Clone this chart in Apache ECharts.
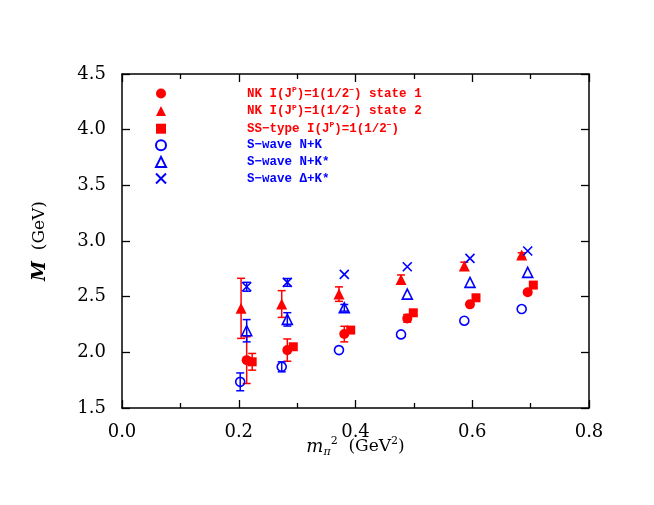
<!DOCTYPE html>
<html>
<head>
<meta charset="utf-8">
<script src="https://cdn.jsdelivr.net/npm/echarts@6/dist/echarts.min.js"></script>
<style>html,body{margin:0;padding:0;background:#fff;}#c{width:654px;height:505px;}</style>
</head>
<body>
<div id="c"></div>
<script>
// ---- data ----
var xTicks = [0.0, 0.2, 0.4, 0.6, 0.8];
var yTicks = [1.5, 2.0, 2.5, 3.0, 3.5, 4.0, 4.5];

var state1X = [0.2136, 0.2832, 0.3808, 0.4887, 0.5961, 0.6950];
var state1Y = [1.930, 2.020, 2.164, 2.305, 2.431, 2.539];
var state1E = [0.210, 0.100, 0.070, 0.035, 0.020, 0.020];

var state2X = [0.2040, 0.2736, 0.3717, 0.4780, 0.5864, 0.6847];
var state2Y = [2.395, 2.434, 2.523, 2.655, 2.775, 2.874];
var state2E = [0.270, 0.120, 0.065, 0.040, 0.035, 0.020];

var ssX = [0.2230, 0.2934, 0.3918, 0.4990, 0.6064, 0.7046];
var ssY = [1.915, 2.050, 2.200, 2.355, 2.490, 2.604];
var ssE = [0.075, 0.020, 0.020, 0.020, 0.020, 0.020];

var nkX = [0.2025, 0.2736, 0.3717, 0.4780, 0.5864, 0.6847];
var nkY = [1.735, 1.870, 2.020, 2.161, 2.284, 2.389];
var nkE = [0.080, 0.045, 0.000, 0.000, 0.000, 0.000];

var nkStarX = [0.2136, 0.2832, 0.3808, 0.4887, 0.5961, 0.6950];
var nkStarY = [2.194, 2.296, 2.400, 2.523, 2.628, 2.718];
var nkStarE = [0.100, 0.060, 0.030, 0.000, 0.000, 0.000];

var dkStarX = [0.2136, 0.2832, 0.3808, 0.4887, 0.5961, 0.6950];
var dkStarY = [2.589, 2.628, 2.700, 2.769, 2.844, 2.910];
var dkStarE = [0.040, 0.035, 0.000, 0.000, 0.000, 0.000];

var seriesNames = ['state1', 'state2', 'ss', 'nk', 'nkstar', 'dkstar'];
var legendRich = {
  state1: '{gap| }{r|NK I(J}{rs|P}{r|)=1(1/2}{rs|\u2212}{r|) state 1}',
  state2: '{gap| }{r|NK I(J}{rs|P}{r|)=1(1/2}{rs|\u2212}{r|) state 2}',
  ss:     '{gap| }{r|SS\u2212type I(J}{rs|P}{r|)=1(1/2}{rs|\u2212}{r|)}',
  nk:     '{gap| }{b|S\u2212wave N+K}',
  nkstar: '{gap| }{b|S\u2212wave N+K*}',
  dkstar: '{gap| }{b|S\u2212wave \u0394+K*}'
};

var RED = '#ff0000', BLUE = '#0000ff';

function pts(xs, ys) { return xs.map(function (x, i) { return [x, ys[i]]; }); }
function errs(xs, ys, es) {
  var out = [];
  xs.forEach(function (x, i) { if (es[i] > 0) out.push([x, ys[i] - es[i], ys[i] + es[i]]); });
  return out;
}
function errSeries(xs, ys, es, color) {
  return {
    type: 'custom', silent: true, z: 1,
    data: errs(xs, ys, es),
    renderItem: function (params, api) {
      var lo = api.coord([api.value(0), api.value(1)]);
      var hi = api.coord([api.value(0), api.value(2)]);
      var w = 4;
      var st = { stroke: color, lineWidth: 1.5, fill: null };
      return {
        type: 'group',
        children: [
          { type: 'line', shape: { x1: lo[0], y1: lo[1], x2: hi[0], y2: hi[1] }, style: st },
          { type: 'line', shape: { x1: lo[0] - w, y1: lo[1], x2: lo[0] + w, y2: lo[1] }, style: st },
          { type: 'line', shape: { x1: hi[0] - w, y1: hi[1], x2: hi[0] + w, y2: hi[1] }, style: st }
        ]
      };
    }
  };
}

var SERIF = 'DejaVu Serif';
var MONO = 'Liberation Mono';

function axisCommon(extra) {
  var a = {
    type: 'value',
    axisLine: { show: true, onZero: false, lineStyle: { color: '#000', width: 1.5 } },
    axisTick: { show: true, inside: true, length: 8, lineStyle: { color: '#000', width: 1.3 } },
    splitLine: { show: false }
  };
  for (var k in extra) a[k] = extra[k];
  return a;
}

var filled = function (c) { return { color: c, opacity: 1 }; };
var open = { color: 'rgba(0,0,0,0)', borderColor: BLUE, borderWidth: 1.6, opacity: 1 };

var chart = echarts.init(document.getElementById('c'), null, { renderer: 'canvas' });
var option = {
  animation: false,
  backgroundColor: '#fff',
  grid: { left: 122, right: 65, top: 74, bottom: 97 },
  xAxis: [
    axisCommon({
      min: xTicks[0], max: xTicks[xTicks.length - 1], interval: 0.2, position: 'bottom',
      minorTick: { show: true, splitNumber: 2, length: 5, lineStyle: { color: '#000', width: 1.3 } },
      axisLabel: { fontFamily: SERIF, fontSize: 18, color: '#000', margin: 15,
        formatter: function (v) { return v.toFixed(1); } },
      name: '{it|m}{sub|\u03c0}{sup|2}{n|  (GeV}{sup|2}{n|)}',
      nameLocation: 'middle', nameGap: 28, nameMoveOverlap: false,
      nameTextStyle: {
        rich: {
          it: { fontFamily: SERIF, fontStyle: 'italic', fontSize: 18, color: '#000', lineHeight: 22 },
          n: { fontFamily: SERIF, fontSize: 17, color: '#000', lineHeight: 22 },
          sub: { fontFamily: SERIF, fontStyle: 'italic', fontSize: 11, color: '#000', lineHeight: 9, verticalAlign: 'bottom' },
          sup: { fontFamily: SERIF, fontSize: 11, color: '#000', lineHeight: 12, verticalAlign: 'top' }
        }
      }
    }),
    axisCommon({
      min: xTicks[0], max: xTicks[xTicks.length - 1], interval: 0.2, position: 'top',
      minorTick: { show: true, splitNumber: 2, length: 5, lineStyle: { color: '#000', width: 1.3 } },
      axisLabel: { show: false }
    })
  ],
  yAxis: [
    axisCommon({
      min: yTicks[0], max: yTicks[yTicks.length - 1], interval: 0.5, position: 'left',
      axisLabel: { fontFamily: SERIF, fontSize: 18, color: '#000', margin: 16,
        formatter: function (v) { return v.toFixed(1); } },
      name: '{it|M}{n|  (GeV)}',
      nameLocation: 'middle', nameGap: 73, nameMoveOverlap: false,
      nameTextStyle: {
        rich: {
          it: { fontFamily: SERIF, fontStyle: 'italic', fontWeight: 'bold', fontSize: 18, color: '#000' },
          n: { fontFamily: SERIF, fontSize: 17, color: '#000' }
        }
      }
    }),
    axisCommon({
      min: yTicks[0], max: yTicks[yTicks.length - 1], interval: 0.5, position: 'right',
      axisLabel: { show: false }
    })
  ],
  legend: {
    orient: 'vertical', left: 150, top: 81,
    itemWidth: 10, itemHeight: 10, itemGap: 3.6,
    selectedMode: false,
    data: seriesNames,
    formatter: function (name) { return legendRich[name]; },
    textStyle: {
      rich: {
        gap: { width: 76, fontSize: 12, lineHeight: 15 },
        r: { fontFamily: MONO, fontWeight: 'bold', fontSize: 12.5, color: RED, lineHeight: 15 },
        rs: { fontFamily: MONO, fontWeight: 'bold', fontSize: 8, color: RED, lineHeight: 8, verticalAlign: 'top' },
        b: { fontFamily: MONO, fontWeight: 'bold', fontSize: 12.5, color: BLUE, lineHeight: 15 }
      }
    }
  },
  series: [
    errSeries(state1X, state1Y, state1E, RED),
    errSeries(state2X, state2Y, state2E, RED),
    errSeries(ssX, ssY, ssE, RED),
    errSeries(nkX, nkY, nkE, BLUE),
    errSeries(nkStarX, nkStarY, nkStarE, BLUE),
    errSeries(dkStarX, dkStarY, dkStarE, BLUE),
    { name: 'state1', type: 'scatter', z: 3, symbol: 'circle', symbolSize: 10,
      itemStyle: filled(RED), data: pts(state1X, state1Y) },
    { name: 'state2', type: 'scatter', z: 3, symbol: 'triangle', symbolSize: 11,
      itemStyle: filled(RED), data: pts(state2X, state2Y) },
    { name: 'ss', type: 'scatter', z: 3, symbol: 'rect', symbolSize: 9,
      itemStyle: filled(RED), data: pts(ssX, ssY) },
    { name: 'nk', type: 'scatter', z: 3, symbol: 'circle', symbolSize: 9,
      itemStyle: open, data: pts(nkX, nkY) },
    { name: 'nkstar', type: 'scatter', z: 3, symbol: 'triangle', symbolSize: 10,
      itemStyle: open, data: pts(nkStarX, nkStarY) },
    { name: 'dkstar', type: 'scatter', z: 3, symbol: 'path://M0,0L10,10M10,0L0,10', symbolSize: 9,
      itemStyle: open, data: pts(dkStarX, dkStarY) }
  ]
};
chart.setOption(option);
</script>
</body>
</html>
